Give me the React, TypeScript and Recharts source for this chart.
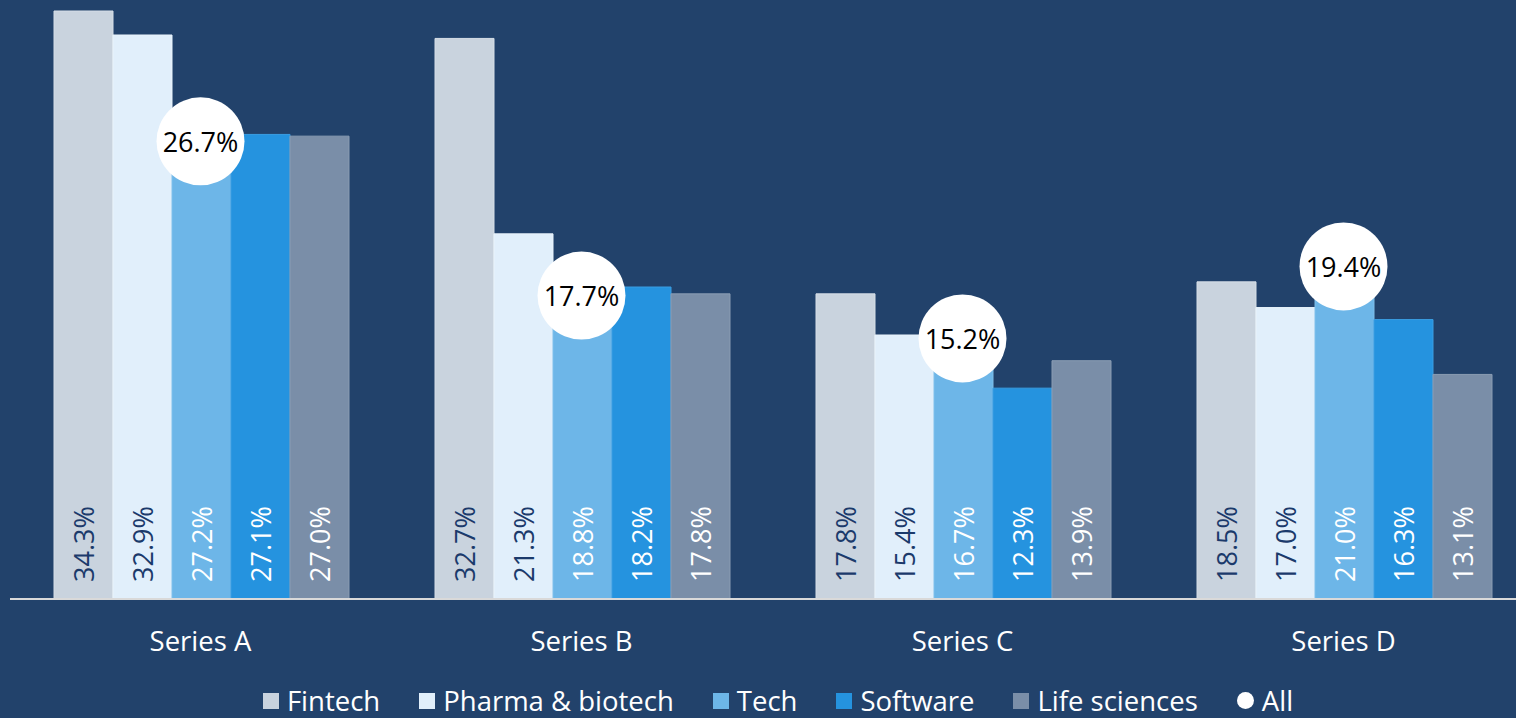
import {
  Bar,
  ComposedChart,
  LabelList,
  Legend,
  Line,
  XAxis,
  YAxis,
} from 'recharts';

const categories = ['Series A', 'Series B', 'Series C', 'Series D'];
const fintech = [34.3, 32.7, 17.8, 18.5];
const pharma = [32.9, 21.3, 15.4, 17.0];
const tech = [27.2, 18.8, 16.7, 21.0];
const software = [27.1, 18.2, 12.3, 16.3];
const lifeSciences = [27.0, 17.8, 13.9, 13.1];
const all = [26.7, 17.7, 15.2, 19.4];

const BG = '#22426B';
const FONT = '"Open Sans", Lato, sans-serif';

const seriesDefs = [
  { key: 'fintech', name: 'Fintech', fill: '#C9D3DE', stroke: '#D6DEE7', text: '#1B3A6B' },
  { key: 'pharma', name: 'Pharma & biotech', fill: '#E1EFFB', stroke: '#EAF4FC', text: '#1B3A6B' },
  { key: 'tech', name: 'Tech', fill: '#6DB6E8', stroke: '#7FBFEB', text: '#FFFFFF' },
  { key: 'software', name: 'Software', fill: '#2593DF', stroke: '#3A9DE2', text: '#FFFFFF' },
  { key: 'life', name: 'Life sciences', fill: '#7A8EA8', stroke: '#8A9CB3', text: '#FFFFFF' },
];

const data = categories.map((name, i) => ({
  name,
  fintech: fintech[i],
  pharma: pharma[i],
  tech: tech[i],
  software: software[i],
  life: lifeSciences[i],
  all: all[i],
}));

const fmt = (v: number) => `${v.toFixed(1)}%`;

function barLabel(color: string) {
  return (props: any) => {
    const { x, y, width, height, value } = props;
    const cx = Number(x) + Number(width) / 2;
    const by = Number(y) + Number(height) - 17;
    return (
      <text
        x={cx}
        y={by}
        transform={`rotate(-90 ${cx} ${by})`}
        textAnchor="start"
        dominantBaseline="central"
        fill={color}
        fontSize={27}
        fontFamily={FONT}
      >
        {fmt(Number(value))}
      </text>
    );
  };
}

function AllDot(props: any) {
  const { cx, cy, value } = props;
  if (cx == null || cy == null) return null;
  return (
    <g>
      <circle cx={cx} cy={cy} r={44} fill="#FFFFFF" />
      <text
        x={cx}
        y={cy}
        textAnchor="middle"
        dominantBaseline="central"
        fill="#000000"
        fontSize={27}
        fontFamily={FONT}
      >
        {fmt(Number(value))}
      </text>
    </g>
  );
}

function CategoryTick(props: any) {
  const { x, y, payload } = props;
  return (
    <text
      x={x}
      y={Number(y) + 33}
      textAnchor="middle"
      dominantBaseline="central"
      fill="#FFFFFF"
      fontSize={27.5}
      fontFamily={FONT}
    >
      {payload.value}
    </text>
  );
}

function LegendContent() {
  return (
    <div
      style={{
        display: 'flex',
        justifyContent: 'center',
        alignItems: 'center',
        gap: 39,
        fontFamily: FONT,
        fontSize: 27.5,
        lineHeight: '30px',
        color: '#FFFFFF',
        paddingLeft: 12,
        paddingTop: 5,
        height: 40,
        boxSizing: 'border-box',
      }}
    >
      {seriesDefs.map((s) => (
        <span key={s.key} style={{ display: 'flex', alignItems: 'center' }}>
          <span style={{ width: 16, height: 16, background: s.fill, marginRight: 8 }} />
          {s.name}
        </span>
      ))}
      <span style={{ display: 'flex', alignItems: 'center' }}>
        <span
          style={{ width: 17, height: 17, background: '#FFFFFF', borderRadius: '50%', marginRight: 8 }}
        />
        All
      </span>
    </div>
  );
}

export default function App() {
  return (
    <div
      style={{
        position: 'absolute',
        left: 0,
        top: 0,
        width: 1516,
        height: 718,
        overflow: 'hidden',
        background: BG,
      }}
    >
      <ComposedChart
        width={1534}
        height={718}
        data={data}
        margin={{ top: 11, right: 0, bottom: 0, left: 10 }}
        barCategoryGap={44}
        barGap={0}
      >
        <XAxis
          dataKey="name"
          tickLine={false}
          axisLine={{ stroke: '#D9D9D9', strokeWidth: 2 }}
          height={79}
          tick={<CategoryTick />}
          interval={0}
        />
        <YAxis hide domain={[0, 34.3]} />
        {seriesDefs.map((s) => (
          <Bar
            key={s.key}
            dataKey={s.key}
            name={s.name}
            fill={s.fill}
            stroke={s.stroke}
            strokeWidth={1}
            isAnimationActive={false}
          >
            <LabelList dataKey={s.key} content={barLabel(s.text)} />
          </Bar>
        ))}
        <Line
          dataKey="all"
          name="All"
          stroke="none"
          dot={<AllDot />}
          activeDot={false}
          isAnimationActive={false}
        />
        <Legend
          verticalAlign="bottom"
          height={40}
          content={<LegendContent />}
        />
      </ComposedChart>
    </div>
  );
}
